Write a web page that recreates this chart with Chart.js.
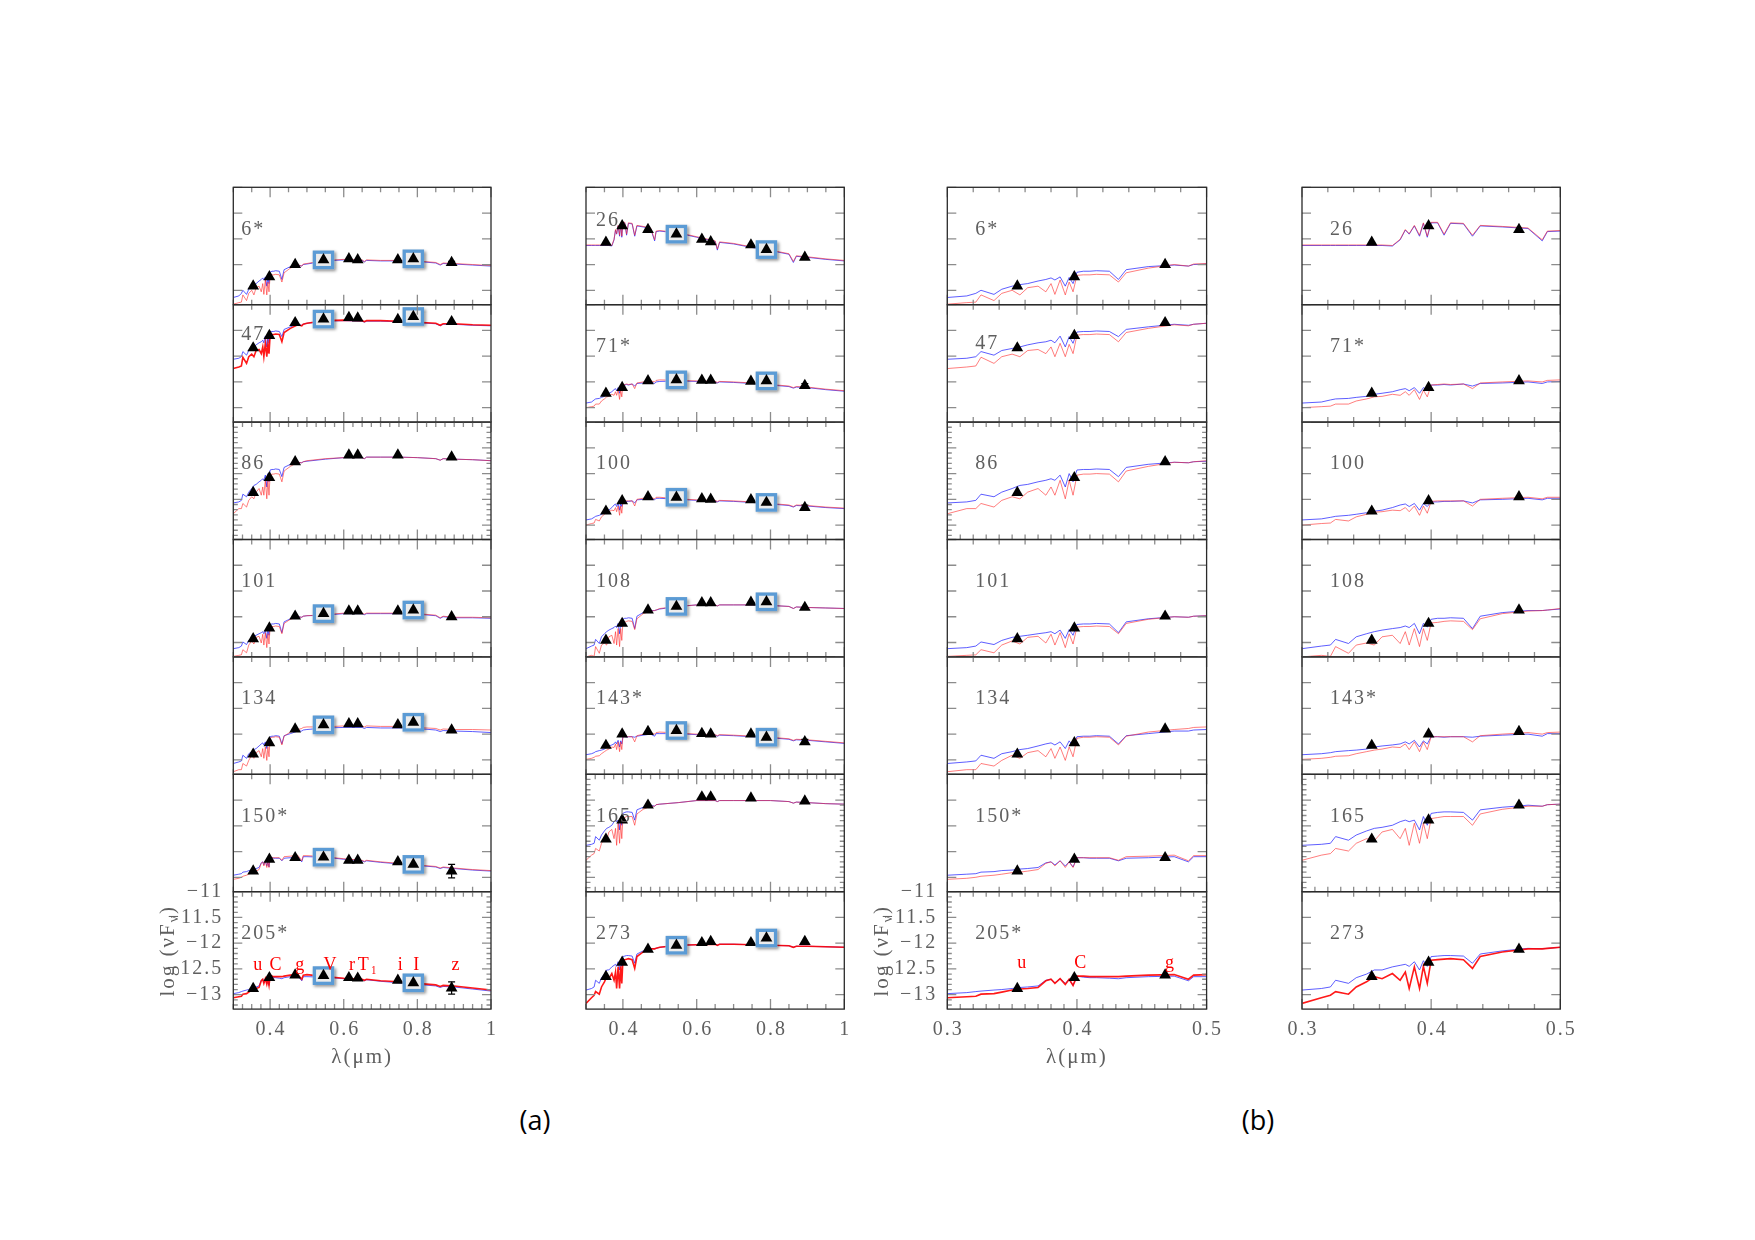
<!DOCTYPE html>
<html>
<head>
<meta charset="utf-8">
<title>SED fits of the sample stars</title>
<script src="https://cdn.jsdelivr.net/npm/chart.js@4.4.1/dist/chart.umd.min.js"></script>
<style>
body {
	margin: 0;
	background: #fff;
}
#page {
	position: relative;
	width: 1755px;
	height: 1240px;
	overflow: hidden;
	background: #fff;
}
#page canvas {
	position: absolute;
}
.part {
	position: absolute;
	font-family: "Open Sans", sans-serif;
	font-size: 27px;
	color: #000;
	transform: translate(-50%, -50%);
}
</style>
</head>
<body>
<div id="page">
	<div class="part" style="left:535px; top:1119px;">(a)</div>
	<div class="part" style="left:1258px; top:1119px;">(b)</div>
</div>
<script>
	(function() {

		// model wavelength grid in micron (finer below 0.5 for the zoomed panels)
		var WL = [0.300, 0.315, 0.322, 0.326, 0.336, 0.342, 0.350, 0.356, 0.362, 0.370,
			0.376, 0.380, 0.383, 0.387, 0.391, 0.394, 0.397, 0.400, 0.405, 0.410,
			0.415, 0.425, 0.432, 0.438, 0.455, 0.475, 0.486, 0.490, 0.500,
			0.550, 0.600, 0.650, 0.656, 0.662, 0.700, 0.750, 0.800, 0.850, 0.862, 0.870, 0.900, 0.950, 1.000];

		var BANDS = ['u', 'C', 'g', 'V', 'r', 'T\u2081', 'i', 'I', 'z'];
		var BAND_WL = [0.354, 0.398, 0.468, 0.545, 0.614, 0.638, 0.747, 0.789, 0.893];

		var Y_MIN = -13.28, Y_MAX = -11;
		var Y_TICKS = [-11, -11.5, -12, -12.5, -13];
		var X_TICKS_A = [0.4, 0.6, 0.8, 1];
		var X_TICKS_B = [0.3, 0.4, 0.5];

		// column (a) stars
		var blue6 = [-13.14, -13.11, -13.06, -13.00, -13.08, -12.98, -12.92, -12.89, -12.87, -12.82,
			-12.79, -12.76, -12.80, -12.74, -12.92, -12.75, -12.87, -12.65, -12.63, -12.63,
			-12.62, -12.63, -12.79, -12.60, -12.54, -12.51, -12.53, -12.50, -12.49,
			-12.43, -12.41, -12.42, -12.45, -12.42, -12.43, -12.43, -12.44, -12.47, -12.51, -12.48, -12.49, -12.51, -12.53];
		var red6 = [-13.27, -13.24, -13.23, -13.09, -13.20, -13.06, -13.00, -13.09, -12.95, -12.92,
			-13.03, -12.87, -13.08, -12.80, -13.09, -12.84, -13.03, -12.71, -12.70, -12.70,
			-12.69, -12.70, -12.84, -12.66, -12.57, -12.50, -12.53, -12.49, -12.48,
			-12.42, -12.40, -12.41, -12.44, -12.41, -12.42, -12.42, -12.43, -12.46, -12.50, -12.47, -12.48, -12.50, -12.52];
		var phot6 = [-12.92, -12.74, -12.50, -12.41, -12.39, -12.41, -12.41, -12.39, -12.46];

		var blue47 = [-12.06, -12.04, -12.01, -11.91, -11.98, -11.89, -11.85, -11.82, -11.78, -11.74,
			-11.72, -11.69, -11.74, -11.61, -11.82, -11.62, -11.75, -11.53, -11.52, -11.52,
			-11.51, -11.52, -11.62, -11.48, -11.43, -11.38, -11.40, -11.38, -11.36,
			-11.32, -11.31, -11.32, -11.34, -11.32, -11.32, -11.33, -11.35, -11.37, -11.41, -11.38, -11.38, -11.40, -11.41];
		var red47 = [-12.24, -12.21, -12.19, -12.02, -12.14, -12.01, -11.96, -12.01, -11.89, -11.87,
			-11.95, -11.82, -12.01, -11.75, -12.01, -11.77, -11.95, -11.59, -11.58, -11.58,
			-11.57, -11.58, -11.72, -11.54, -11.46, -11.39, -11.41, -11.38, -11.36,
			-11.31, -11.30, -11.31, -11.33, -11.31, -11.31, -11.32, -11.34, -11.36, -11.40, -11.37, -11.37, -11.39, -11.40];
		var phot47 = [-11.84, -11.60, -11.35, -11.28, -11.25, -11.26, -11.29, -11.23, -11.33];

		var blue86 = [-12.57, -12.55, -12.52, -12.40, -12.45, -12.36, -12.29, -12.23, -12.21, -12.16,
			-12.13, -12.10, -12.13, -12.03, -12.26, -12.00, -12.16, -11.93, -11.92, -11.92,
			-11.91, -11.92, -12.06, -11.88, -11.82, -11.78, -11.79, -11.77, -11.76,
			-11.72, -11.69, -11.69, -11.71, -11.68, -11.68, -11.68, -11.69, -11.71, -11.74, -11.71, -11.72, -11.73, -11.75];
		var red86 = [-12.78, -12.68, -12.68, -12.58, -12.65, -12.52, -12.45, -12.49, -12.36, -12.29,
			-12.42, -12.26, -12.42, -12.13, -12.49, -12.13, -12.42, -12.03, -12.01, -12.01,
			-12.00, -12.01, -12.16, -11.95, -11.86, -11.78, -11.79, -11.77, -11.75,
			-11.71, -11.69, -11.69, -11.71, -11.68, -11.68, -11.68, -11.69, -11.71, -11.74, -11.71, -11.72, -11.73, -11.75];
		var phot86 = [-12.37, -12.08, -11.77, null, -11.64, -11.64, -11.64, null, -11.68];

		var blue101 = [-13.12, -13.10, -13.07, -12.99, -13.04, -12.96, -12.90, -12.88, -12.86, -12.83,
			-12.81, -12.79, -12.83, -12.76, -12.92, -12.75, -12.86, -12.65, -12.64, -12.64,
			-12.63, -12.64, -12.81, -12.60, -12.54, -12.50, -12.51, -12.49, -12.48,
			-12.47, -12.44, -12.44, -12.46, -12.44, -12.44, -12.44, -12.45, -12.48, -12.53, -12.50, -12.52, -12.52, -12.53];
		var red101 = [-13.27, -13.25, -13.24, -13.14, -13.20, -13.05, -12.97, -13.03, -12.90, -12.88,
			-13.01, -12.84, -13.05, -12.81, -13.10, -12.83, -13.03, -12.70, -12.69, -12.69,
			-12.68, -12.69, -12.83, -12.63, -12.55, -12.50, -12.51, -12.49, -12.48,
			-12.46, -12.43, -12.43, -12.45, -12.43, -12.43, -12.43, -12.44, -12.47, -12.52, -12.49, -12.51, -12.51, -12.52];
		var phot101 = [-12.93, -12.72, -12.49, -12.44, -12.39, -12.39, -12.39, -12.37, -12.50];

		var blue134 = [-13.07, -13.04, -13.02, -12.91, -12.97, -12.88, -12.84, -12.80, -12.78, -12.73,
			-12.69, -12.67, -12.71, -12.65, -12.78, -12.63, -12.73, -12.55, -12.54, -12.54,
			-12.53, -12.54, -12.69, -12.53, -12.49, -12.44, -12.44, -12.42, -12.41,
			-12.38, -12.37, -12.37, -12.39, -12.37, -12.38, -12.38, -12.39, -12.42, -12.45, -12.43, -12.44, -12.45, -12.47];
		var red134 = [-13.23, -13.19, -13.19, -13.07, -13.12, -13.01, -12.91, -12.97, -12.86, -12.82,
			-12.94, -12.78, -12.97, -12.75, -13.01, -12.75, -12.94, -12.58, -12.56, -12.56,
			-12.55, -12.56, -12.71, -12.54, -12.46, -12.41, -12.39, -12.37, -12.36,
			-12.36, -12.34, -12.34, -12.36, -12.34, -12.35, -12.35, -12.37, -12.39, -12.42, -12.40, -12.41, -12.41, -12.42];
		var phot134 = [-12.89, -12.67, -12.40, -12.32, -12.30, -12.30, -12.32, -12.27, -12.42];

		var blue150 = [-12.96, -12.94, -12.93, -12.90, -12.89, -12.87, -12.86, -12.84, -12.83, -12.81,
			-12.72, -12.70, -12.76, -12.68, -12.78, -12.70, -12.80, -12.62, -12.62, -12.63,
			-12.63, -12.63, -12.68, -12.63, -12.62, -12.60, -12.70, -12.60, -12.60,
			-12.61, -12.65, -12.68, -12.70, -12.68, -12.71, -12.74, -12.77, -12.80, -12.83, -12.81, -12.83, -12.86, -12.88];
		var red150 = [-13.04, -13.02, -13.00, -12.98, -12.96, -12.94, -12.91, -12.90, -12.88, -12.85,
			-12.73, -12.70, -12.78, -12.68, -12.81, -12.70, -12.81, -12.62, -12.62, -12.62,
			-12.62, -12.62, -12.67, -12.60, -12.59, -12.57, -12.68, -12.58, -12.58,
			-12.60, -12.64, -12.67, -12.69, -12.67, -12.70, -12.73, -12.76, -12.79, -12.82, -12.80, -12.82, -12.85, -12.87];
		var phot150 = [-12.88, -12.65, -12.62, -12.61, -12.67, -12.67, -12.70, -12.75, -12.88];

		var blue205 = [-12.98, -12.96, -12.94, -12.93, -12.91, -12.90, -12.88, -12.86, -12.85, -12.83,
			-12.72, -12.70, -12.77, -12.69, -12.78, -12.70, -12.82, -12.64, -12.66, -12.67,
			-12.67, -12.68, -12.69, -12.67, -12.65, -12.64, -12.73, -12.65, -12.65,
			-12.66, -12.69, -12.71, -12.73, -12.71, -12.74, -12.77, -12.80, -12.83, -12.86, -12.84, -12.85, -12.89, -12.93];
		var red205 = [-13.06, -13.04, -13.03, -12.99, -12.98, -12.95, -12.91, -12.89, -12.88, -12.86,
			-12.73, -12.70, -12.78, -12.69, -12.80, -12.70, -12.82, -12.64, -12.64, -12.65,
			-12.65, -12.65, -12.65, -12.64, -12.62, -12.61, -12.70, -12.62, -12.61,
			-12.65, -12.68, -12.70, -12.72, -12.70, -12.73, -12.75, -12.78, -12.81, -12.84, -12.82, -12.83, -12.87, -12.91];
		var phot205 = [-12.88, -12.67, -12.62, -12.63, -12.67, -12.68, -12.72, -12.77, -12.87];

		// column (b) stars
		var blue26 = [-12.13, -12.13, -12.13, -12.13, -12.13, -12.13, -12.13, -12.13, -12.13, -12.14,
			-12.02, -11.83, -11.91, -11.75, -11.95, -11.70, -11.97, -11.69, -11.69, -11.93,
			-11.70, -11.71, -11.95, -11.75, -11.77, -11.80, -12.04, -11.86, -11.85,
			-11.89, -11.97, -12.05, -12.22, -12.07, -12.10, -12.17, -12.23, -12.30, -12.46, -12.34, -12.36, -12.40, -12.43];
		var red26 = [-12.12, -12.12, -12.12, -12.12, -12.12, -12.12, -12.12, -12.12, -12.12, -12.13,
			-12.01, -11.82, -11.90, -11.74, -11.93, -11.69, -11.95, -11.68, -11.68, -11.91,
			-11.69, -11.70, -11.93, -11.74, -11.76, -11.79, -12.02, -11.85, -11.84,
			-11.88, -11.96, -12.04, -12.20, -12.06, -12.09, -12.16, -12.22, -12.29, -12.44, -12.33, -12.35, -12.39, -12.42];
		var phot26 = [-12.07, -11.75, -11.82, -11.91, -12.01, -12.06, -12.12, -12.21, -12.36];

		var blue71 = [-12.91, -12.89, -12.85, -12.83, -12.82, -12.80, -12.78, -12.74, -12.72, -12.69,
			-12.65, -12.63, -12.67, -12.61, -12.72, -12.61, -12.66, -12.56, -12.56, -12.55,
			-12.56, -12.54, -12.58, -12.53, -12.52, -12.50, -12.53, -12.50, -12.49,
			-12.48, -12.49, -12.50, -12.52, -12.50, -12.51, -12.53, -12.56, -12.59, -12.62, -12.60, -12.61, -12.65, -12.68];
		var red71 = [-13.00, -12.98, -12.97, -12.93, -12.93, -12.87, -12.83, -12.79, -12.78, -12.74,
			-12.76, -12.69, -12.76, -12.65, -12.84, -12.66, -12.79, -12.56, -12.55, -12.54,
			-12.55, -12.54, -12.63, -12.52, -12.50, -12.48, -12.50, -12.47, -12.46,
			-12.47, -12.48, -12.49, -12.51, -12.49, -12.50, -12.52, -12.55, -12.58, -12.61, -12.59, -12.60, -12.64, -12.67];
		var phot71 = [-12.72, -12.61, -12.48, -12.46, -12.47, -12.47, -12.49, -12.48, -12.57];

		var blue100 = [-12.90, -12.88, -12.85, -12.83, -12.81, -12.79, -12.76, -12.73, -12.71, -12.66,
			-12.61, -12.59, -12.64, -12.58, -12.71, -12.58, -12.64, -12.55, -12.55, -12.54,
			-12.54, -12.53, -12.57, -12.51, -12.50, -12.48, -12.51, -12.48, -12.48,
			-12.50, -12.52, -12.53, -12.55, -12.53, -12.54, -12.56, -12.59, -12.62, -12.65, -12.62, -12.63, -12.66, -12.68];
		var red100 = [-13.00, -12.97, -12.96, -12.89, -12.92, -12.84, -12.79, -12.75, -12.74, -12.71,
			-12.72, -12.66, -12.74, -12.63, -12.81, -12.63, -12.77, -12.54, -12.53, -12.53,
			-12.53, -12.53, -12.63, -12.50, -12.48, -12.46, -12.49, -12.46, -12.46,
			-12.49, -12.51, -12.52, -12.54, -12.52, -12.53, -12.55, -12.58, -12.61, -12.64, -12.61, -12.62, -12.65, -12.67];
		var phot100 = [-12.73, -12.53, -12.45, -12.46, -12.49, -12.50, -12.51, -12.56, -12.66];

		var blue108 = [-13.12, -13.07, -13.05, -12.94, -13.02, -12.89, -12.83, -12.79, -12.76, -12.73,
			-12.71, -12.68, -12.71, -12.63, -12.83, -12.63, -12.70, -12.55, -12.53, -12.53,
			-12.52, -12.53, -12.73, -12.49, -12.42, -12.38, -12.38, -12.37, -12.35,
			-12.30, -12.27, -12.27, -12.29, -12.27, -12.27, -12.27, -12.28, -12.30, -12.34, -12.31, -12.32, -12.33, -12.34];
		var red108 = [-13.28, -13.25, -13.27, -13.08, -13.21, -13.05, -13.01, -13.05, -12.89, -12.86,
			-13.02, -12.79, -13.05, -12.73, -13.08, -12.73, -12.96, -12.62, -12.61, -12.59,
			-12.58, -12.59, -12.75, -12.54, -12.44, -12.39, -12.38, -12.37, -12.34,
			-12.30, -12.27, -12.27, -12.29, -12.27, -12.27, -12.27, -12.28, -12.30, -12.34, -12.31, -12.32, -12.33, -12.34];
		var phot108 = [-12.96, -12.63, -12.37, -12.30, -12.23, -12.23, -12.22, -12.21, -12.32];

		var blue143 = [-12.90, -12.88, -12.86, -12.84, -12.82, -12.81, -12.79, -12.75, -12.73, -12.71,
			-12.69, -12.65, -12.69, -12.62, -12.75, -12.63, -12.69, -12.55, -12.55, -12.56,
			-12.55, -12.55, -12.56, -12.54, -12.52, -12.50, -12.54, -12.49, -12.49,
			-12.49, -12.51, -12.52, -12.54, -12.52, -12.53, -12.55, -12.57, -12.60, -12.63, -12.61, -12.62, -12.65, -12.68];
		var red143 = [-12.99, -12.97, -12.95, -12.93, -12.92, -12.88, -12.84, -12.81, -12.79, -12.75,
			-12.76, -12.69, -12.80, -12.65, -12.84, -12.65, -12.80, -12.55, -12.55, -12.55,
			-12.55, -12.55, -12.65, -12.53, -12.50, -12.47, -12.50, -12.47, -12.46,
			-12.48, -12.50, -12.51, -12.53, -12.51, -12.52, -12.54, -12.56, -12.59, -12.62, -12.60, -12.61, -12.64, -12.67];
		var phot143 = [-12.72, -12.50, -12.45, -12.43, -12.49, -12.50, -12.50, -12.56, -12.65];

		var blue165 = [-12.38, -12.36, -12.34, -12.21, -12.28, -12.18, -12.10, -12.05, -12.03, -11.99,
			-11.92, -11.89, -11.92, -11.89, -12.08, -11.82, -11.99, -11.76, -11.74, -11.73,
			-11.73, -11.74, -11.89, -11.69, -11.64, -11.60, -11.62, -11.59, -11.58,
			-11.55, -11.51, -11.51, -11.53, -11.51, -11.51, -11.51, -11.51, -11.53, -11.56, -11.54, -11.55, -11.57, -11.58];
		var red165 = [-12.67, -12.57, -12.54, -12.44, -12.49, -12.34, -12.25, -12.29, -12.12, -12.07,
			-12.25, -12.05, -12.38, -11.95, -12.34, -11.95, -12.25, -11.86, -11.84, -11.82,
			-11.82, -11.82, -11.99, -11.77, -11.68, -11.62, -11.62, -11.59, -11.58,
			-11.55, -11.51, -11.51, -11.53, -11.51, -11.51, -11.51, -11.51, -11.53, -11.56, -11.54, -11.55, -11.57, -11.58];
		var phot165 = [-12.26, -11.89, -11.60, null, -11.44, -11.44, -11.46, null, -11.52];

		var blue273 = [-12.91, -12.88, -12.85, -12.72, -12.78, -12.67, -12.60, -12.52, -12.52, -12.46,
			-12.43, -12.41, -12.45, -12.36, -12.52, -12.34, -12.45, -12.26, -12.25, -12.24,
			-12.24, -12.25, -12.39, -12.21, -12.15, -12.10, -12.11, -12.10, -12.08,
			-12.04, -12.03, -12.02, -12.04, -12.02, -12.02, -12.03, -12.04, -12.05, -12.08, -12.06, -12.06, -12.07, -12.08];
		var red273 = [-13.17, -13.06, -13.01, -12.94, -12.99, -12.85, -12.75, -12.65, -12.69, -12.59,
			-12.72, -12.56, -12.88, -12.46, -12.88, -12.45, -12.78, -12.33, -12.32, -12.31,
			-12.30, -12.32, -12.49, -12.26, -12.17, -12.11, -12.11, -12.10, -12.08,
			-12.04, -12.03, -12.02, -12.04, -12.02, -12.02, -12.03, -12.04, -12.05, -12.08, -12.06, -12.06, -12.07, -12.08];
		var phot273 = [-12.65, -12.37, -12.12, -12.04, -11.99, -11.97, -11.99, -11.90, -11.97];

		var STARS = ['6*', '47', '86', '101', '134', '150*', '205*', '26', '71*', '100', '108', '143*', '165', '273'];
		var BLUE = [blue6, blue47, blue86, blue101, blue134, blue150, blue205, blue26, blue71, blue100, blue108, blue143, blue165, blue273];
		var RED = [red6, red47, red86, red101, red134, red150, red205, red26, red71, red100, red108, red143, red165, red273];
		var PHOT = [phot6, phot47, phot86, phot101, phot134, phot150, phot205, phot26, phot71, phot100, phot108, phot143, phot165, phot273];
		var Z_ERR = [0.02, 0, 0, 0, 0, 0.13, 0.12, 0, 0.04, 0.05, 0, 0.05, 0, 0];

		// ---- layout of the 4 x 7 grid of panels ----
		var COL_X = [233.3, 586, 947.3, 1302];
		var COL_W = [257.7, 258.3, 259.3, 258.3];
		var ROW_Y = 187.3, ROW_H = 117.4;
		var DENSE = ['86', '165', '205*'];
		var THICK_A = ['47', '205*', '273'];
		var THICK_B = ['205*', '273'];
		var GREY = '#5f5f5f';
		var SERIF = '"Liberation Serif", "DejaVu Serif", serif';

		function seq(min, max, step) {
			var out = [];
			var k0 = Math.ceil(min / step - 1e-6);
			for (var k = k0; k * step <= max + 1e-9; k++) out.push(k * step);
			return out;
		}
		function isMult(v, step) {
			var q = v / step;
			return Math.abs(q - Math.round(q)) < 1e-6;
		}
		function text(ctx, s, x, y, size, color, align, base) {
			ctx.font = size + 'px ' + SERIF;
			ctx.fillStyle = color;
			ctx.textAlign = align || 'left';
			ctx.textBaseline = base || 'middle';
			ctx.letterSpacing = '2px';
			ctx.fillText(s, x, y);
			ctx.letterSpacing = '0px';
		}

		function framePlugin(cfg) {
			return {
				id: 'frame',
				afterDatasetsDraw: function(chart) {
					var ctx = chart.ctx, a = chart.chartArea;
					var xs = chart.scales.x, ys = chart.scales.y;
					ctx.save();

					// blue boxes around V and I
					if (!cfg.zoomed) {
						var meta = chart.getDatasetMeta(0);
						var pts = chart.data.datasets[0].data;
						meta.data.forEach(function(el, i) {
							if (pts[i].band !== 'V' && pts[i].band !== 'I') return;
							ctx.save();
							ctx.shadowColor = 'rgba(0,0,0,0.45)';
							ctx.shadowBlur = 3;
							ctx.shadowOffsetX = 1.5;
							ctx.shadowOffsetY = 1.5;
							ctx.fillStyle = '#ececec';
							ctx.fillRect(el.x - 10.8, el.y - 9.4, 21.6, 18.8);
							ctx.restore();
							ctx.strokeStyle = '#5b9bd5';
							ctx.lineWidth = 3.3;
							ctx.strokeRect(el.x - 9.1, el.y - 7.7, 18.2, 15.4);
							el.draw(ctx, a);
						});
					}

					// error bar on z
					if (cfg.zerr > 0) {
						chart.data.datasets[0].data.forEach(function(p) {
							if (p.band !== 'z' || p.x > xs.max) return;
							var px = xs.getPixelForValue(p.x);
							var y1 = ys.getPixelForValue(p.y + cfg.zerr), y2 = ys.getPixelForValue(p.y - cfg.zerr);
							ctx.strokeStyle = '#000';
							ctx.lineWidth = 1.2;
							ctx.beginPath();
							ctx.moveTo(px, y1); ctx.lineTo(px, y2);
							ctx.moveTo(px - 3.5, y1); ctx.lineTo(px + 3.5, y1);
							ctx.moveTo(px - 3.5, y2); ctx.lineTo(px + 3.5, y2);
							ctx.stroke();
						});
					}

					// inward ticks
					var xMajor = cfg.zoomed ? 0.1 : 0.2;
					var xMinor = cfg.zoomed ? (cfg.dense ? 0.01 : 0.02) : (cfg.dense ? 0.025 : 0.05);
					ctx.strokeStyle = '#8c8c8c';
					ctx.lineWidth = 1.3;
					ctx.beginPath();
					seq(xs.min, xs.max, xMinor).forEach(function(v) {
						var px = xs.getPixelForValue(v);
						var len = isMult(v, xMajor) ? 10 : 5;
						ctx.moveTo(px, a.top); ctx.lineTo(px, a.top + len);
						ctx.moveTo(px, a.bottom); ctx.lineTo(px, a.bottom - len);
					});
					seq(ys.min, ys.max, cfg.dense ? 0.1 : 0.5).forEach(function(v) {
						var py = ys.getPixelForValue(v);
						var len = isMult(v, 0.5) ? 9 : 4.5;
						ctx.moveTo(a.left, py); ctx.lineTo(a.left + len, py);
						ctx.moveTo(a.right, py); ctx.lineTo(a.right - len, py);
					});
					ctx.stroke();

					// frame
					ctx.strokeStyle = '#2a2a2a';
					ctx.lineWidth = 1.3;
					ctx.strokeRect(a.left, a.top, a.right - a.left, a.bottom - a.top);

					// star name
					text(ctx, cfg.name, a.left + cfg.nameDx, a.top + cfg.nameDy, 20, GREY);

					// filter names in the reference panel
					if (cfg.bandLabels) {
						BANDS.forEach(function(b, i) {
							if (BAND_WL[i] > xs.max) return;
							text(ctx, b, xs.getPixelForValue(BAND_WL[i]), ys.getPixelForValue(cfg.bandY), 18, '#ff0000', 'left', 'alphabetic');
						});
					}

					// axis numbers and titles on the bottom row
					if (cfg.bottom) {
						(cfg.zoomed ? X_TICKS_B : X_TICKS_A).forEach(function(v) {
							text(ctx, String(v), xs.getPixelForValue(v) + 1, a.bottom + 21, 20, GREY, 'center');
						});
						if (cfg.first) {
							text(ctx, '\u03bb(\u03bcm)', (a.left + a.right) / 2, a.bottom + 48, 21, GREY, 'center');
							Y_TICKS.forEach(function(v) {
								text(ctx, '\u2212' + Math.abs(v), a.left - 10, ys.getPixelForValue(v), 20, GREY, 'right');
							});
							// rotated y title: log (nu F_nu)
							ctx.save();
							ctx.translate(a.left - 65, a.top + 59);
							ctx.rotate(-Math.PI / 2);
							ctx.letterSpacing = '2px';
							ctx.font = '21px ' + SERIF;
							var w1 = ctx.measureText('log (\u03bdF').width;
							var w3 = ctx.measureText(')').width;
							ctx.font = '14px ' + SERIF;
							var w2 = ctx.measureText('\u03bd').width;
							var x0 = -(w1 + w2 + w3) / 2;
							ctx.fillStyle = GREY;
							ctx.textAlign = 'left';
							ctx.textBaseline = 'middle';
							ctx.font = '21px ' + SERIF;
							ctx.fillText('log (\u03bdF', x0, 0);
							ctx.font = '14px ' + SERIF;
							ctx.fillText('\u03bd', x0 + w1, 6);
							ctx.font = '21px ' + SERIF;
							ctx.fillText(')', x0 + w1 + w2, 0);
							ctx.restore();
						}
					}
					ctx.restore();
				}
			};
		}

		function makePanel(col, row) {
			var s = (col % 2 ? 7 : 0) + row;
			var name = STARS[s];
			var zoomed = col >= 2;
			var bottom = row === 6;
			var first = bottom && col % 2 === 0;
			var left = COL_X[col], top = ROW_Y + row * ROW_H;
			var w = COL_W[col], h = ROW_H;
			var padL = first ? 110 : (bottom ? 24 : 14);
			var padR = bottom ? 24 : 14;
			var padT = 14, padB = bottom ? 72 : 14;
			var cx = Math.floor(left - padL), cy = Math.floor(top - padT);
			var W = Math.ceil(left + w + padR) - cx;
			var H = Math.ceil(top + h + padB) - cy;

			var canvas = document.createElement('canvas');
			canvas.width = W;
			canvas.height = H;
			canvas.style.left = cx + 'px';
			canvas.style.top = cy + 'px';
			canvas.style.width = W + 'px';
			canvas.style.height = H + 'px';
			document.getElementById('page').appendChild(canvas);

			var phot = [];
			PHOT[s].forEach(function(v, i) {
				if (v !== null) phot.push({x: BAND_WL[i], y: v, band: BANDS[i]});
			});
			var thick = (zoomed ? THICK_B : THICK_A).indexOf(name) >= 0;

			var nameDy = 42;
			if (!zoomed && name === '47') nameDy = 30;
			if (!zoomed && name === '26') nameDy = 33;
			if (zoomed && name === '47') nameDy = 39;

			new Chart(canvas, {
				type: 'line',
				data: {
					datasets: [{
						data: phot,
						showLine: false,
						pointStyle: 'triangle',
						pointRadius: 6.8,
						pointBackgroundColor: '#000',
						pointBorderColor: '#000',
						pointBorderWidth: 0,
						clip: 8
					}, {
						data: WL.map(function(x, i) { return {x: x, y: RED[s][i]}; }),
						borderColor: thick ? 'rgba(255,0,0,0.9)' : 'rgba(255,40,40,0.6)',
						borderWidth: thick ? 1.6 : 1,
						pointRadius: 0,
						tension: 0,
						clip: 0
					}, {
						data: WL.map(function(x, i) { return {x: x, y: BLUE[s][i]}; }),
						borderColor: 'rgba(40,40,255,0.75)',
						borderWidth: 1,
						pointRadius: 0,
						tension: 0,
						clip: 0
					}]
				},
				options: {
					responsive: false,
					animation: false,
					devicePixelRatio: 1,
					events: [],
					layout: {
						padding: {
							left: left - cx,
							top: top - cy,
							right: cx + W - (left + w),
							bottom: cy + H - (top + h)
						}
					},
					plugins: {legend: {display: false}, tooltip: {enabled: false}},
					scales: {
						x: {type: 'linear', min: 0.3, max: zoomed ? 0.5 : 1.0, display: false},
						y: {type: 'linear', min: Y_MIN, max: Y_MAX, display: false}
					}
				},
				plugins: [framePlugin({
					name: name,
					zoomed: zoomed,
					bottom: bottom,
					first: first,
					dense: DENSE.indexOf(name) >= 0,
					zerr: zoomed ? 0 : Z_ERR[s],
					bandLabels: name === '205*',
					bandY: zoomed ? -12.49 : -12.52,
					nameDx: zoomed ? 28 : (col === 0 ? 8 : 10),
					nameDy: nameDy
				})]
			});
		}

		for (var c = 0; c < 4; c++) {
			for (var r = 0; r < 7; r++) {
				makePanel(c, r);
			}
		}
	})();
</script>
</body>
</html>
